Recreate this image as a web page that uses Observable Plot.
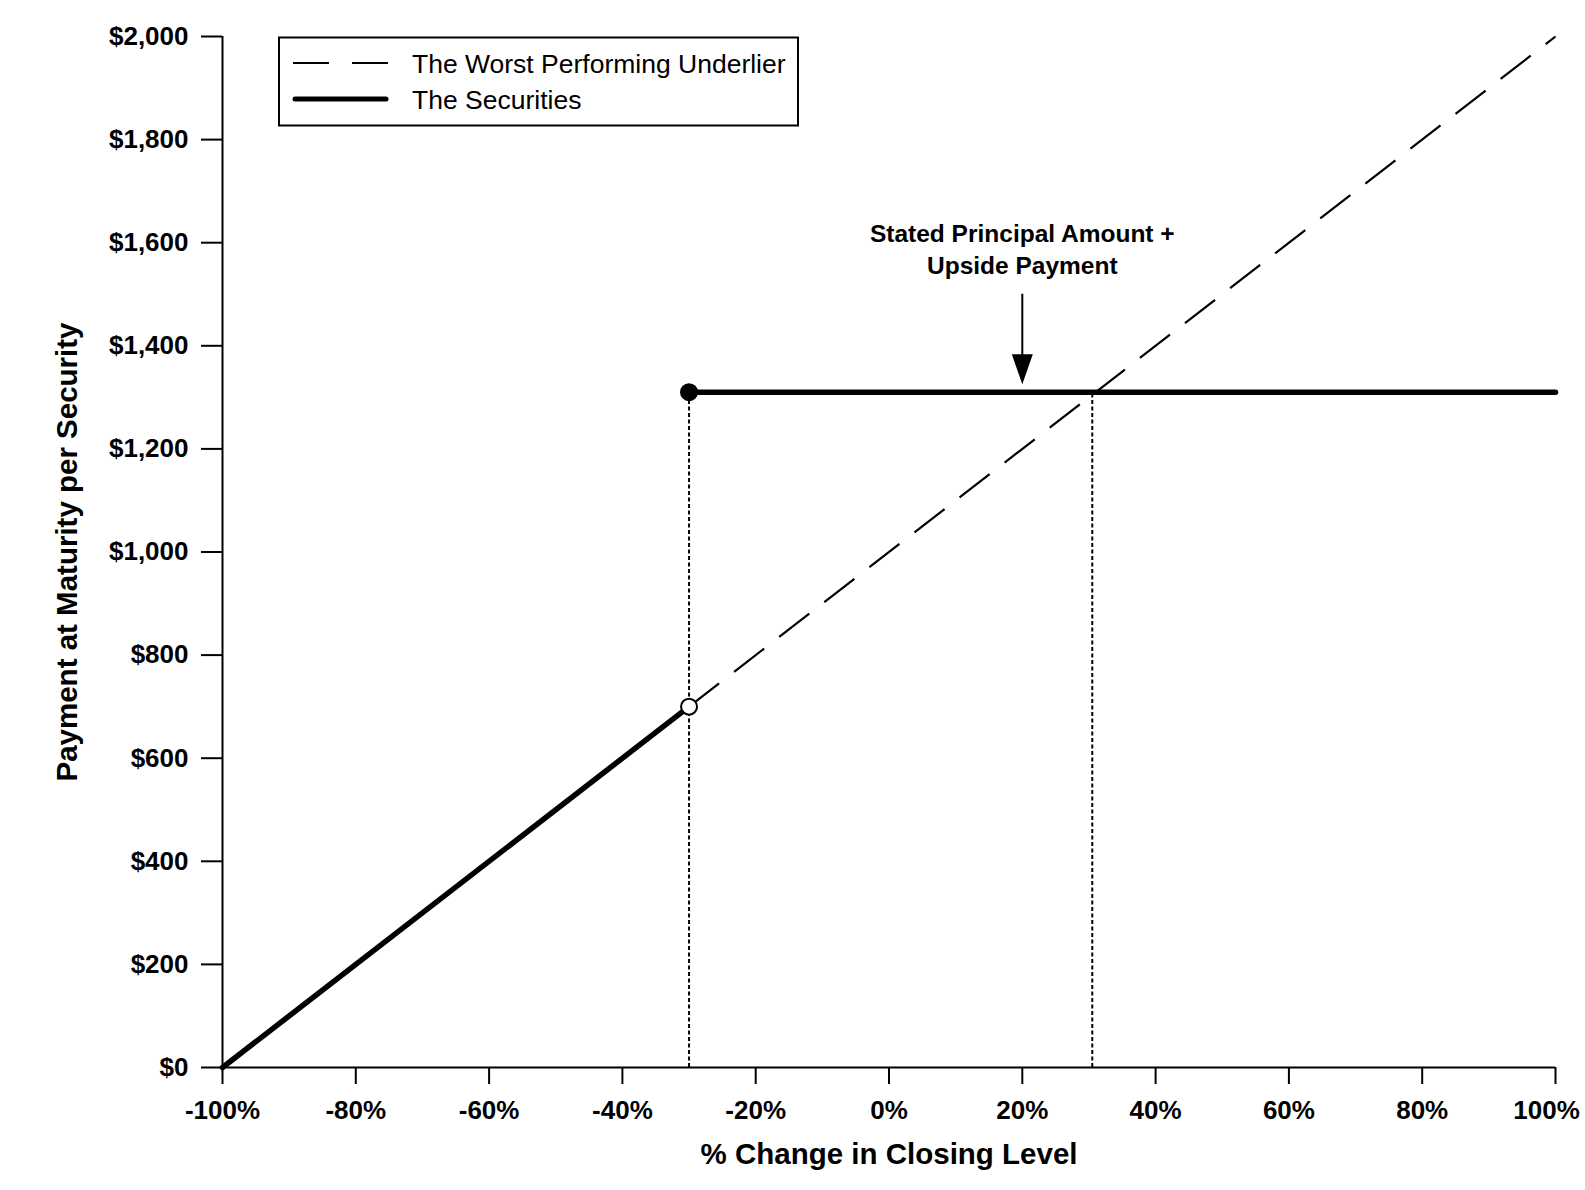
<!DOCTYPE html>
<html>
<head>
<meta charset="utf-8">
<script src="https://cdn.jsdelivr.net/npm/d3@7"></script>
<script src="https://cdn.jsdelivr.net/npm/@observablehq/plot@0.6"></script>
<style>
  html, body { margin: 0; padding: 0; background: #fff; }
  #wrap { position: relative; width: 1585px; height: 1190px; }
  #legend { position: absolute; left: 0; top: 0; pointer-events: none; }
  svg text { font-family: "Liberation Sans", Arial, sans-serif; }
</style>
</head>
<body>
<div id="wrap"></div>
<script>
// ---- data ----
const xTicks = [-100, -80, -60, -40, -20, 0, 20, 40, 60, 80, 100];
const yTicks = [0, 200, 400, 600, 800, 1000, 1200, 1400, 1600, 1800, 2000];
const xTitle = "% Change in Closing Level";
const yTitle = "Payment at Maturity per Security";

const threshold = -30;          // % change at which securities jump
const thresholdPayment = 700;   // payment just below threshold
const capPayment = 1310;        // stated principal amount + upside payment
const capCross = 30.5;          // where underlier reaches cap (dotted guide)

const securitiesLowX = [-100, threshold];
const securitiesLowY = [0, thresholdPayment];
const securitiesHighX = [threshold, 100];
const securitiesHighY = [capPayment, capPayment];
const underlierX = [threshold, 100];
const underlierY = [thresholdPayment, 2000];

const annotationText = "Stated Principal Amount +\nUpside Payment";
const annotationX = 20;
const annotationY = 1590;
const arrowTopY = 1500;
const arrowBaseY = 1380;

const legendLabels = ["The Worst Performing Underlier", "The Securities"];

const zip = (xs, ys) => xs.map((x, i) => ({x, y: ys[i]}));

const arrowHead = {
  draw(ctx) {
    const w = 10.5, h = 30;
    ctx.moveTo(-w, -h);
    ctx.lineTo(w, -h);
    ctx.lineTo(0, 0);
    ctx.closePath();
  }
};

const bold = {fontWeight: "bold"};
const fmtX = d => d + "%";
const xTicksLast = xTicks.slice(-1);

const chart = Plot.plot({
  width: 1585,
  height: 1190,
  marginLeft: 222,
  marginRight: 30,
  marginTop: 36,
  marginBottom: 123,
  style: {fontFamily: "Liberation Sans, Arial, sans-serif", background: "#fff", overflow: "visible"},
  x: {domain: [-100, 100]},
  y: {domain: [0, 2000]},
  marks: [
    // axes
    Plot.axisX({ticks: xTicks, tickFormat: d => xTicksLast.includes(d) ? "" : fmtX(d), tickSize: 17, tickPadding: 16,
      fontSize: 26, fontWeight: "bold", strokeWidth: 2, stroke: "#000", fill: "#000", label: null}),
    Plot.axisX({ticks: xTicksLast, tickFormat: fmtX, tickSize: 0, tickPadding: 33, dx: -9,
      fontSize: 26, fontWeight: "bold", stroke: "none", fill: "#000", label: null}),
    Plot.axisY({ticks: yTicks, tickFormat: d => "$" + d3.format(",")(d), tickSize: 21, tickPadding: 13,
      fontSize: 26, fontWeight: "bold", strokeWidth: 2, stroke: "#000", fill: "#000", label: null}),
    Plot.ruleY([0], {stroke: "#000", strokeWidth: 2}),
    Plot.ruleX([-100], {stroke: "#000", strokeWidth: 2}),
    // axis titles
    Plot.text([xTitle], {text: d => d, frameAnchor: "bottom", textAnchor: "middle", dy: 96, fontSize: 29.5, ...bold, fill: "#000"}),
    Plot.text([yTitle], {text: d => d, frameAnchor: "left", textAnchor: "middle", dx: -155, rotate: -90, fontSize: 29.5, ...bold, fill: "#000"}),
    // dotted guides
    Plot.ruleX([threshold], {y1: 0, y2: capPayment, stroke: "#000", strokeWidth: 2, strokeDasharray: "4,2.5"}),
    Plot.ruleX([capCross], {y1: 0, y2: capPayment, stroke: "#000", strokeWidth: 2, strokeDasharray: "4,2.5"}),
    // underlier
    Plot.line(zip(underlierX, underlierY), {x: "x", y: "y", stroke: "#000", strokeWidth: 2.2, strokeDasharray: "38,19", strokeLinecap: "butt"}),
    // securities
    Plot.line(zip(securitiesLowX, securitiesLowY), {x: "x", y: "y", stroke: "#000", strokeWidth: 5.5}),
    Plot.line(zip(securitiesHighX, securitiesHighY), {x: "x", y: "y", stroke: "#000", strokeWidth: 5.5}),
    Plot.dot([{x: threshold, y: capPayment}], {x: "x", y: "y", r: 9, fill: "#000", stroke: "none"}),
    Plot.dot([{x: threshold, y: thresholdPayment}], {x: "x", y: "y", r: 8, fill: "#fff", stroke: "#000", strokeWidth: 2}),
    // annotation
    Plot.text([annotationText], {x: annotationX, y: annotationY, text: d => d, fontSize: 24.5, ...bold,
      lineHeight: 1.3, lineAnchor: "middle", fill: "#000"}),
    Plot.ruleX([annotationX], {y1: arrowTopY, y2: arrowBaseY, stroke: "#000", strokeWidth: 2}),
    Plot.dot([{x: annotationX, y: capPayment}], {x: "x", y: "y", symbol: arrowHead, fill: "#000", stroke: "none", dy: -8})
  ]
});

const wrap = document.getElementById("wrap");
wrap.appendChild(chart);

// legend
const ns = "http://www.w3.org/2000/svg";
const leg = document.createElementNS(ns, "svg");
leg.setAttribute("id", "legend");
leg.setAttribute("width", 1585);
leg.setAttribute("height", 200);
function el(tag, attrs, text) {
  const e = document.createElementNS(ns, tag);
  for (const k in attrs) e.setAttribute(k, attrs[k]);
  if (text) e.textContent = text;
  leg.appendChild(e);
  return e;
}
el("rect", {x: 279, y: 37.5, width: 519, height: 88, fill: "#fff", stroke: "#000", "stroke-width": 2});
el("line", {x1: 293, x2: 388, y1: 63, y2: 63, stroke: "#000", "stroke-width": 2, "stroke-dasharray": "36,23"});
el("line", {x1: 295, x2: 386, y1: 99, y2: 99, stroke: "#000", "stroke-width": 5, "stroke-linecap": "round"});
el("text", {x: 412, y: 73, "font-size": 26.5, fill: "#000"}, legendLabels[0]);
el("text", {x: 412, y: 109, "font-size": 26.5, fill: "#000"}, legendLabels[1]);
wrap.appendChild(leg);
</script>
</body>
</html>
